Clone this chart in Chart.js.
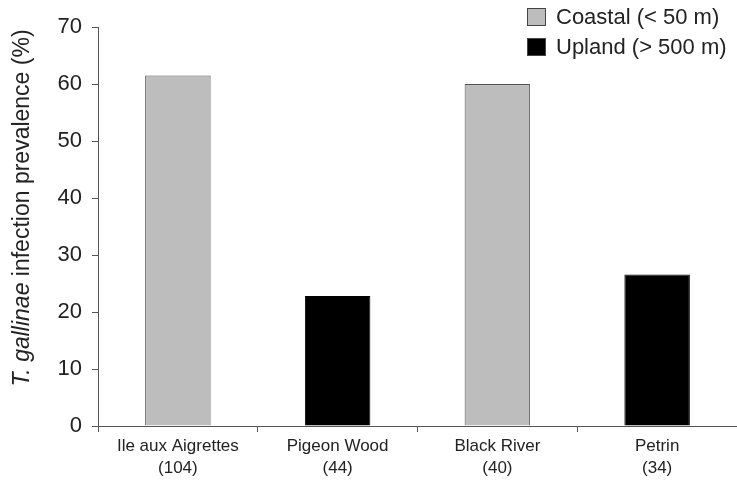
<!DOCTYPE html>
<html>
<head>
<meta charset="utf-8">
<script src="https://cdn.jsdelivr.net/npm/chart.js@4.4.1/dist/chart.umd.min.js"></script>
<style>
  body { margin: 0; background: #fff; }
  #wrap { position: relative; width: 737px; height: 481px; }
  #legend { position: absolute; left: 527px; top: 2px; font: 22px "Liberation Sans", Arial, sans-serif; color: #222; }
  #legend div { display: flex; align-items: center; height: 30px; }
  #legend span.box { display: inline-block; width: 19px; height: 18px; margin-right: 10px; box-sizing: border-box; border: 1px solid #444; }
</style>
</head>
<body>
<div id="wrap">
  <canvas id="chart" width="737" height="481"></canvas>
  <div id="legend">
    <div><span class="box" style="background:#bdbdbd"></span>Coastal (&lt; 50 m)</div>
    <div><span class="box" style="background:#000"></span>Upland (&gt; 500 m)</div>
  </div>
</div>
<script>
    const sites = [['Ile aux Aigrettes', '(104)'], ['Pigeon Wood', '(44)'], ['Black River', '(40)'], ['Petrin', '(34)']];
    const coastal = [61.5, null, 60, null];
    const upland = [null, 22.8, null, 26.6];
    const yTicks = [0, 10, 20, 30, 40, 50, 60, 70];

    // rotated y title with italic species name
    const yTitle = {
        id: 'yTitle',
        afterDraw(chart) {
            const ctx = chart.ctx;
            const italic = 'italic 23px "Liberation Sans", Arial, sans-serif';
            const normal = '23px "Liberation Sans", Arial, sans-serif';
            const p1 = 'T. gallinae', p2 = ' infection prevalence (%)';
            ctx.save();
            ctx.font = italic;
            const w1 = ctx.measureText(p1).width;
            ctx.font = normal;
            const w2 = ctx.measureText(p2).width;
            ctx.translate(29, 208);
            ctx.rotate(-Math.PI / 2);
            ctx.fillStyle = '#222';
            ctx.textBaseline = 'alphabetic';
            ctx.textAlign = 'left';
            const start = -(w1 + w2) / 2;
            ctx.font = italic;
            ctx.fillText(p1, start, 0);
            ctx.font = normal;
            ctx.fillText(p2, start + w1, 0);
            ctx.restore();
        }
    };

    new Chart(document.getElementById('chart'), {
        type: 'bar',
        data: {
            labels: sites,
            datasets: [{
                label: 'Coastal (< 50 m)',
                data: coastal,
                backgroundColor: '#bdbdbd',
                borderColor: '#555',
                borderWidth: 1
            }, {
                label: 'Upland (> 500 m)',
                data: upland,
                backgroundColor: '#000',
                borderColor: '#000',
                borderWidth: 1
            }]
        },
        options: {
            responsive: false,
            animation: false,
            layout: { padding: { top: 27, right: 0, left: 0, bottom: 0 } },
            datasets: { bar: { grouped: false, barPercentage: 0.41, categoryPercentage: 1 } },
            plugins: { legend: { display: false }, tooltip: { enabled: false } },
            scales: {
                x: {
                    grid: { offset: true, drawOnChartArea: false, drawTicks: true, tickLength: 6, color: '#555' },
                    border: { color: '#555', width: 1 },
                    ticks: { color: '#222', font: { size: 17, family: '"Liberation Sans", Arial, sans-serif', lineHeight: 1.25 }, padding: 4 },
                    afterFit(scale) { scale.height = 55; }
                },
                y: {
                    min: 0, max: 70,
                    afterBuildTicks(scale) { scale.ticks = yTicks.map(v => ({ value: v })); },
                    grid: { drawOnChartArea: false, drawTicks: true, tickLength: 6, color: '#555' },
                    border: { color: '#555', width: 1 },
                    ticks: { color: '#222', font: { size: 22, family: '"Liberation Sans", Arial, sans-serif' }, padding: 10 },
                    afterFit(scale) { scale.width = 98; }
                }
            }
        },
        plugins: [yTitle]
    });
</script>
</body>
</html>
